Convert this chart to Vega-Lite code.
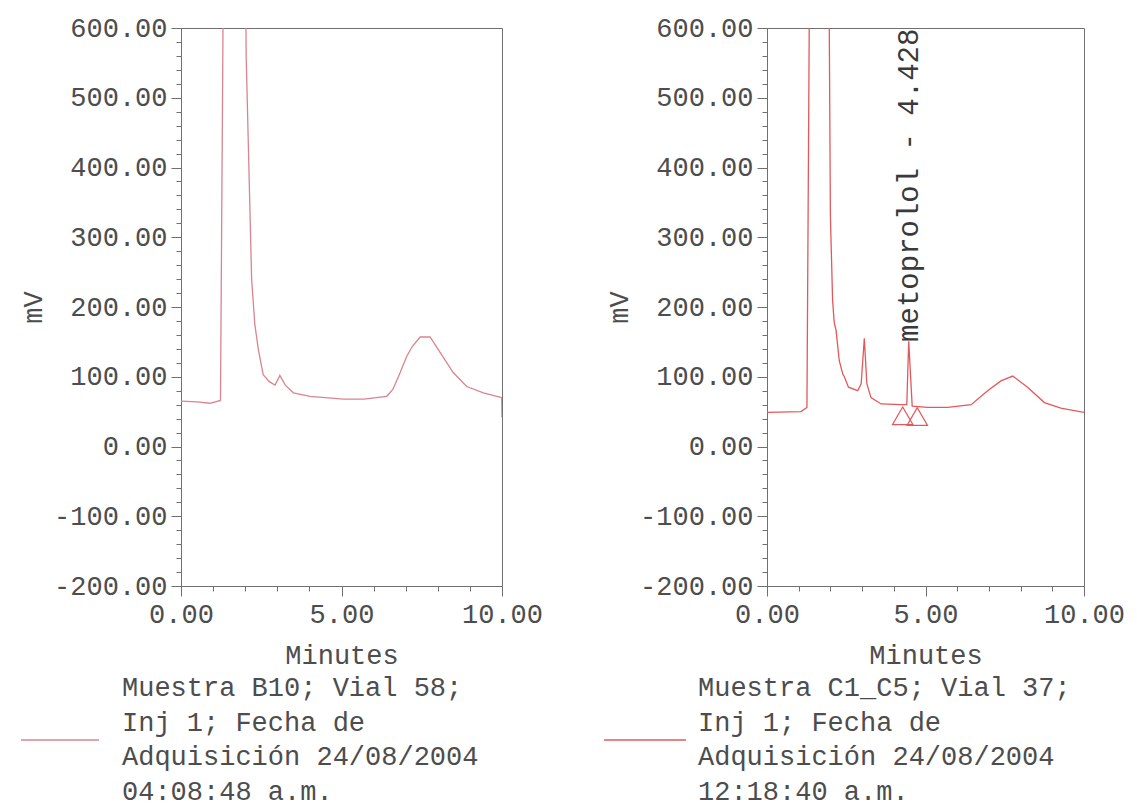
{
  "$schema": "https://vega.github.io/schema/vega-lite/v6.json",
  "background": "white",
  "padding": {"left": 19, "top": 13, "right": 0, "bottom": 0},
  "spacing": 58,
  "config": {
    "font": "Liberation Mono",
    "view": {"stroke": "#707070", "strokeWidth": 1},
    "axis": {
      "grid": false,
      "labelFont": "Liberation Mono",
      "labelFontSize": 27,
      "labelColor": "#4d4d4d",
      "labelOverlap": false,
      "labelFlush": false,
      "titleFont": "Liberation Mono",
      "titleFontSize": 27,
      "titleFontWeight": "normal",
      "titleColor": "#4d4d4d",
      "domainColor": "#707070",
      "tickColor": "#707070"
    }
  },
  "datasets": {
    "left": [
      {"t": 0.0, "mv": 65, "sample": "Muestra B10; Vial 58;\nInj 1; Fecha de\nAdquisición 24/08/2004\n04:08:48 a.m."},
      {"t": 0.5, "mv": 64, "sample": "Muestra B10; Vial 58;\nInj 1; Fecha de\nAdquisición 24/08/2004\n04:08:48 a.m."},
      {"t": 0.9, "mv": 62, "sample": "Muestra B10; Vial 58;\nInj 1; Fecha de\nAdquisición 24/08/2004\n04:08:48 a.m."},
      {"t": 1.23, "mv": 66, "sample": "Muestra B10; Vial 58;\nInj 1; Fecha de\nAdquisición 24/08/2004\n04:08:48 a.m."},
      {"t": 1.66, "mv": 3000, "sample": "Muestra B10; Vial 58;\nInj 1; Fecha de\nAdquisición 24/08/2004\n04:08:48 a.m."},
      {"t": 2.03, "mv": 560, "sample": "Muestra B10; Vial 58;\nInj 1; Fecha de\nAdquisición 24/08/2004\n04:08:48 a.m."},
      {"t": 2.2, "mv": 240, "sample": "Muestra B10; Vial 58;\nInj 1; Fecha de\nAdquisición 24/08/2004\n04:08:48 a.m."},
      {"t": 2.3, "mv": 175, "sample": "Muestra B10; Vial 58;\nInj 1; Fecha de\nAdquisición 24/08/2004\n04:08:48 a.m."},
      {"t": 2.41, "mv": 139, "sample": "Muestra B10; Vial 58;\nInj 1; Fecha de\nAdquisición 24/08/2004\n04:08:48 a.m."},
      {"t": 2.56, "mv": 103, "sample": "Muestra B10; Vial 58;\nInj 1; Fecha de\nAdquisición 24/08/2004\n04:08:48 a.m."},
      {"t": 2.75, "mv": 93, "sample": "Muestra B10; Vial 58;\nInj 1; Fecha de\nAdquisición 24/08/2004\n04:08:48 a.m."},
      {"t": 2.93, "mv": 88, "sample": "Muestra B10; Vial 58;\nInj 1; Fecha de\nAdquisición 24/08/2004\n04:08:48 a.m."},
      {"t": 3.08, "mv": 102, "sample": "Muestra B10; Vial 58;\nInj 1; Fecha de\nAdquisición 24/08/2004\n04:08:48 a.m."},
      {"t": 3.25, "mv": 88, "sample": "Muestra B10; Vial 58;\nInj 1; Fecha de\nAdquisición 24/08/2004\n04:08:48 a.m."},
      {"t": 3.5, "mv": 77, "sample": "Muestra B10; Vial 58;\nInj 1; Fecha de\nAdquisición 24/08/2004\n04:08:48 a.m."},
      {"t": 4.02, "mv": 72, "sample": "Muestra B10; Vial 58;\nInj 1; Fecha de\nAdquisición 24/08/2004\n04:08:48 a.m."},
      {"t": 5.06, "mv": 68, "sample": "Muestra B10; Vial 58;\nInj 1; Fecha de\nAdquisición 24/08/2004\n04:08:48 a.m."},
      {"t": 5.7, "mv": 68, "sample": "Muestra B10; Vial 58;\nInj 1; Fecha de\nAdquisición 24/08/2004\n04:08:48 a.m."},
      {"t": 6.41, "mv": 72, "sample": "Muestra B10; Vial 58;\nInj 1; Fecha de\nAdquisición 24/08/2004\n04:08:48 a.m."},
      {"t": 6.6, "mv": 82, "sample": "Muestra B10; Vial 58;\nInj 1; Fecha de\nAdquisición 24/08/2004\n04:08:48 a.m."},
      {"t": 6.8, "mv": 103, "sample": "Muestra B10; Vial 58;\nInj 1; Fecha de\nAdquisición 24/08/2004\n04:08:48 a.m."},
      {"t": 7.03, "mv": 129, "sample": "Muestra B10; Vial 58;\nInj 1; Fecha de\nAdquisición 24/08/2004\n04:08:48 a.m."},
      {"t": 7.2, "mv": 143, "sample": "Muestra B10; Vial 58;\nInj 1; Fecha de\nAdquisición 24/08/2004\n04:08:48 a.m."},
      {"t": 7.45, "mv": 157, "sample": "Muestra B10; Vial 58;\nInj 1; Fecha de\nAdquisición 24/08/2004\n04:08:48 a.m."},
      {"t": 7.76, "mv": 157, "sample": "Muestra B10; Vial 58;\nInj 1; Fecha de\nAdquisición 24/08/2004\n04:08:48 a.m."},
      {"t": 8.0, "mv": 140, "sample": "Muestra B10; Vial 58;\nInj 1; Fecha de\nAdquisición 24/08/2004\n04:08:48 a.m."},
      {"t": 8.48, "mv": 106, "sample": "Muestra B10; Vial 58;\nInj 1; Fecha de\nAdquisición 24/08/2004\n04:08:48 a.m."},
      {"t": 8.9, "mv": 86, "sample": "Muestra B10; Vial 58;\nInj 1; Fecha de\nAdquisición 24/08/2004\n04:08:48 a.m."},
      {"t": 9.42, "mv": 77, "sample": "Muestra B10; Vial 58;\nInj 1; Fecha de\nAdquisición 24/08/2004\n04:08:48 a.m."},
      {"t": 9.99, "mv": 70, "sample": "Muestra B10; Vial 58;\nInj 1; Fecha de\nAdquisición 24/08/2004\n04:08:48 a.m."},
      {"t": 10.0, "mv": 42, "sample": "Muestra B10; Vial 58;\nInj 1; Fecha de\nAdquisición 24/08/2004\n04:08:48 a.m."}
    ],
    "right": [
      {"t": 0.0, "mv": 49, "sample": "Muestra C1_C5; Vial 37;\nInj 1; Fecha de\nAdquisición 24/08/2004\n12:18:40 a.m."},
      {"t": 1.07, "mv": 50, "sample": "Muestra C1_C5; Vial 37;\nInj 1; Fecha de\nAdquisición 24/08/2004\n12:18:40 a.m."},
      {"t": 1.26, "mv": 56, "sample": "Muestra C1_C5; Vial 37;\nInj 1; Fecha de\nAdquisición 24/08/2004\n12:18:40 a.m."},
      {"t": 1.65, "mv": 3000, "sample": "Muestra C1_C5; Vial 37;\nInj 1; Fecha de\nAdquisición 24/08/2004\n12:18:40 a.m."},
      {"t": 2.0, "mv": 330, "sample": "Muestra C1_C5; Vial 37;\nInj 1; Fecha de\nAdquisición 24/08/2004\n12:18:40 a.m."},
      {"t": 2.07, "mv": 209, "sample": "Muestra C1_C5; Vial 37;\nInj 1; Fecha de\nAdquisición 24/08/2004\n12:18:40 a.m."},
      {"t": 2.12, "mv": 178, "sample": "Muestra C1_C5; Vial 37;\nInj 1; Fecha de\nAdquisición 24/08/2004\n12:18:40 a.m."},
      {"t": 2.18, "mv": 166, "sample": "Muestra C1_C5; Vial 37;\nInj 1; Fecha de\nAdquisición 24/08/2004\n12:18:40 a.m."},
      {"t": 2.28, "mv": 123, "sample": "Muestra C1_C5; Vial 37;\nInj 1; Fecha de\nAdquisición 24/08/2004\n12:18:40 a.m."},
      {"t": 2.39, "mv": 104, "sample": "Muestra C1_C5; Vial 37;\nInj 1; Fecha de\nAdquisición 24/08/2004\n12:18:40 a.m."},
      {"t": 2.44, "mv": 100, "sample": "Muestra C1_C5; Vial 37;\nInj 1; Fecha de\nAdquisición 24/08/2004\n12:18:40 a.m."},
      {"t": 2.57, "mv": 85, "sample": "Muestra C1_C5; Vial 37;\nInj 1; Fecha de\nAdquisición 24/08/2004\n12:18:40 a.m."},
      {"t": 2.86, "mv": 80, "sample": "Muestra C1_C5; Vial 37;\nInj 1; Fecha de\nAdquisición 24/08/2004\n12:18:40 a.m."},
      {"t": 2.97, "mv": 90, "sample": "Muestra C1_C5; Vial 37;\nInj 1; Fecha de\nAdquisición 24/08/2004\n12:18:40 a.m."},
      {"t": 3.07, "mv": 155, "sample": "Muestra C1_C5; Vial 37;\nInj 1; Fecha de\nAdquisición 24/08/2004\n12:18:40 a.m."},
      {"t": 3.15, "mv": 90, "sample": "Muestra C1_C5; Vial 37;\nInj 1; Fecha de\nAdquisición 24/08/2004\n12:18:40 a.m."},
      {"t": 3.28, "mv": 70, "sample": "Muestra C1_C5; Vial 37;\nInj 1; Fecha de\nAdquisición 24/08/2004\n12:18:40 a.m."},
      {"t": 3.6, "mv": 61, "sample": "Muestra C1_C5; Vial 37;\nInj 1; Fecha de\nAdquisición 24/08/2004\n12:18:40 a.m."},
      {"t": 4.23, "mv": 60, "sample": "Muestra C1_C5; Vial 37;\nInj 1; Fecha de\nAdquisición 24/08/2004\n12:18:40 a.m."},
      {"t": 4.41, "mv": 60, "sample": "Muestra C1_C5; Vial 37;\nInj 1; Fecha de\nAdquisición 24/08/2004\n12:18:40 a.m."},
      {"t": 4.47, "mv": 151, "sample": "Muestra C1_C5; Vial 37;\nInj 1; Fecha de\nAdquisición 24/08/2004\n12:18:40 a.m."},
      {"t": 4.58, "mv": 58, "sample": "Muestra C1_C5; Vial 37;\nInj 1; Fecha de\nAdquisición 24/08/2004\n12:18:40 a.m."},
      {"t": 5.07, "mv": 56, "sample": "Muestra C1_C5; Vial 37;\nInj 1; Fecha de\nAdquisición 24/08/2004\n12:18:40 a.m."},
      {"t": 5.7, "mv": 56, "sample": "Muestra C1_C5; Vial 37;\nInj 1; Fecha de\nAdquisición 24/08/2004\n12:18:40 a.m."},
      {"t": 6.44, "mv": 60, "sample": "Muestra C1_C5; Vial 37;\nInj 1; Fecha de\nAdquisición 24/08/2004\n12:18:40 a.m."},
      {"t": 6.96, "mv": 80, "sample": "Muestra C1_C5; Vial 37;\nInj 1; Fecha de\nAdquisición 24/08/2004\n12:18:40 a.m."},
      {"t": 7.38, "mv": 94, "sample": "Muestra C1_C5; Vial 37;\nInj 1; Fecha de\nAdquisición 24/08/2004\n12:18:40 a.m."},
      {"t": 7.75, "mv": 101, "sample": "Muestra C1_C5; Vial 37;\nInj 1; Fecha de\nAdquisición 24/08/2004\n12:18:40 a.m."},
      {"t": 8.22, "mv": 85, "sample": "Muestra C1_C5; Vial 37;\nInj 1; Fecha de\nAdquisición 24/08/2004\n12:18:40 a.m."},
      {"t": 8.75, "mv": 63, "sample": "Muestra C1_C5; Vial 37;\nInj 1; Fecha de\nAdquisición 24/08/2004\n12:18:40 a.m."},
      {"t": 9.27, "mv": 55, "sample": "Muestra C1_C5; Vial 37;\nInj 1; Fecha de\nAdquisición 24/08/2004\n12:18:40 a.m."},
      {"t": 10.0, "mv": 49, "sample": "Muestra C1_C5; Vial 37;\nInj 1; Fecha de\nAdquisición 24/08/2004\n12:18:40 a.m."}
    ],
    "markers": [
      {"t": 4.28, "mv": 44},
      {"t": 4.74, "mv": 43}
    ],
    "peakLabel": [
      {"t": 4.47, "mv": 150, "label": "metoprolol - 4.428"}
    ]
  },
  "resolve": {"scale": {"color": "independent"}, "legend": {"color": "independent"}},
  "hconcat": [
    {
      "width": 321,
      "height": 558,
      "data": {"name": "left"},
      "mark": {"type": "line", "clip": true, "strokeWidth": 1.3},
      "encoding": {
        "x": {
          "field": "t", "type": "quantitative",
          "scale": {"domain": [0, 10], "nice": false, "zero": false},
          "axis": {
            "title": "Minutes",
            "values": [0, 1, 2, 3, 4, 5, 6, 7, 8, 9, 10],
            "labelExpr": "datum.value % 5 === 0 ? format(datum.value, '.2f') : ''",
            "tickSize": {"condition": {"test": "datum.value % 5 === 0", "value": 10}, "value": 5},
            "labelPadding": 5,
            "titlePadding": 15
          }
        },
        "y": {
          "field": "mv", "type": "quantitative",
          "scale": {"domain": [-200, 600], "nice": false, "zero": false},
          "axis": {
            "title": "mV",
            "values": [-200,-180,-160,-140,-120,-100,-80,-60,-40,-20,0,20,40,60,80,100,120,140,160,180,200,220,240,260,280,300,320,340,360,380,400,420,440,460,480,500,520,540,560,580,600],
            "labelExpr": "datum.value % 100 === 0 ? (datum.value < 0 ? '-' : '') + format(abs(datum.value), '.2f') : ''",
            "tickSize": {"condition": {"test": "datum.value % 100 === 0", "value": 10}, "value": 5},
            "labelPadding": 4,
            "titlePadding": 6
          }
        },
        "color": {
          "field": "sample", "type": "nominal",
          "scale": {"range": ["#d98590"]},
          "legend": {
            "orient": "none", "legendX": -161, "legendY": 672,
            "title": null, "padding": 0,
            "symbolType": "stroke", "symbolSize": 6084, "symbolStrokeWidth": 1.3,
            "labelFont": "Liberation Mono", "labelFontSize": 27, "labelColor": "#4d4d4d",
            "labelLimit": 800, "labelOffset": 22,
            "labelExpr": "split(datum.label, '\\n')",
            "encode": {"labels": {"update": {"lineHeight": {"value": 34.5}, "dy": {"value": -52}}}}
          }
        }
      }
    },
    {
      "width": 317,
      "height": 558,
      "encoding": {
        "x": {
          "field": "t", "type": "quantitative",
          "scale": {"domain": [0, 10], "nice": false, "zero": false},
          "axis": {
            "title": "Minutes",
            "values": [0, 1, 2, 3, 4, 5, 6, 7, 8, 9, 10],
            "labelExpr": "datum.value % 5 === 0 ? format(datum.value, '.2f') : ''",
            "tickSize": {"condition": {"test": "datum.value % 5 === 0", "value": 10}, "value": 5},
            "labelPadding": 5,
            "titlePadding": 15
          }
        },
        "y": {
          "field": "mv", "type": "quantitative",
          "scale": {"domain": [-200, 600], "nice": false, "zero": false},
          "axis": {
            "title": "mV",
            "values": [-200,-180,-160,-140,-120,-100,-80,-60,-40,-20,0,20,40,60,80,100,120,140,160,180,200,220,240,260,280,300,320,340,360,380,400,420,440,460,480,500,520,540,560,580,600],
            "labelExpr": "datum.value % 100 === 0 ? (datum.value < 0 ? '-' : '') + format(abs(datum.value), '.2f') : ''",
            "tickSize": {"condition": {"test": "datum.value % 100 === 0", "value": 10}, "value": 5},
            "labelPadding": 4,
            "titlePadding": 6
          }
        }
      },
      "layer": [
        {
          "data": {"name": "right"},
          "mark": {"type": "line", "clip": true, "strokeWidth": 1.3},
          "encoding": {
            "color": {
              "field": "sample", "type": "nominal",
              "scale": {"range": ["#e4585c"]},
              "legend": {
                "orient": "none", "legendX": -164, "legendY": 670,
                "title": null, "padding": 0,
                "symbolType": "stroke", "symbolSize": 6724, "symbolStrokeWidth": 1.3,
                "labelFont": "Liberation Mono", "labelFontSize": 27, "labelColor": "#4d4d4d",
                "labelLimit": 800, "labelOffset": 11,
                "labelExpr": "split(datum.label, '\\n')",
                "encode": {"labels": {"update": {"lineHeight": {"value": 34.5}, "dy": {"value": -52}}}}
              }
            }
          }
        },
        {
          "data": {"name": "markers"},
          "mark": {"type": "point", "shape": "triangle-up", "filled": false, "size": 420, "stroke": "#e4585c", "strokeWidth": 1.2, "opacity": 1}
        },
        {
          "data": {"name": "peakLabel"},
          "mark": {"type": "text", "angle": 270, "align": "left", "baseline": "middle", "font": "Liberation Mono", "fontSize": 29, "color": "#3a3a3a"},
          "encoding": {"text": {"field": "label", "type": "nominal"}}
        }
      ]
    }
  ]
}
